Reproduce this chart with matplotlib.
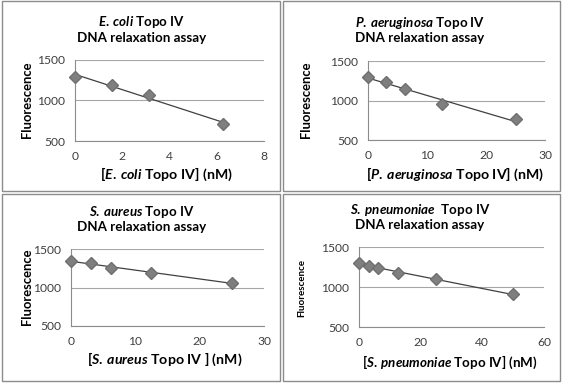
import numpy as np
import matplotlib
matplotlib.use("Agg")
import matplotlib.pyplot as plt
from matplotlib.patches import Rectangle

plt.rcParams['font.family'] = ['Lato', 'DejaVu Sans']
plt.rcParams['mathtext.fontset'] = 'custom'
plt.rcParams['mathtext.rm'] = 'Lato:bold'
plt.rcParams['mathtext.it'] = 'Lato:bold:italic'
plt.rcParams['mathtext.bf'] = 'Lato:bold'

# ---- data ----
ecoli_x = [0, 1.5625, 3.125, 6.25]
ecoli_y = [1296, 1188, 1062, 712]

paer_x = [0, 3.125, 6.25, 12.5, 25]
paer_y = [1303, 1228, 1147, 950, 761]

saur_x = [0, 3.125, 6.25, 12.5, 25]
saur_y = [1345, 1319, 1250, 1190, 1060]

spn_x = [0, 3.125, 6.25, 12.5, 25, 50]
spn_y = [1302, 1258, 1238, 1178, 1097, 908]

titles = [r"$\mathit{E.\:coli}$ Topo IV", r"$\mathit{P.\:aeruginosa}$ Topo IV",
          r"$\mathit{S.\:aureus}$ Topo IV", r"$\mathit{S.\:pneumoniae}$  Topo IV"]
subtitle = "DNA relaxation assay"
xlabels = [r"$\mathit{[E.\:coli}$ Topo IV] (nM)", r"$\mathit{[P.\:aeruginosa}$ Topo IV] (nM)",
           r"$\mathit{[S.\:aureus}$ Topo IV ] (nM)", r"[$\mathit{S.\:pneumoniae}$ Topo IV] (nM)"]
ylabel = "Fluorescence"
xmaxes = [8, 30, 30, 60]
xticks = [[0, 2, 4, 6, 8], [0, 10, 20, 30], [0, 10, 20, 30], [0, 20, 40, 60]]
yticks = [500, 1000, 1500]

W, H = 562, 383
fig = plt.figure(figsize=(W / 100, H / 100), dpi=100)

def fx(px):
    return px / W

def fy(py):
    return 1 - py / H

# panel borders (x0, y0, x1, y1) in pixels
panels = [(2, 1, 280, 191), (283, 1, 560, 191), (2, 194, 280, 381), (283, 194, 560, 381)]
for (x0, y0, x1, y1) in panels:
    fig.add_artist(Rectangle((fx(x0), fy(y1)), fx(x1 - x0), (y1 - y0) / H,
                             transform=fig.transFigure, fill=False,
                             edgecolor='#8c8c8c', lw=1.0))

# axes boxes (left, right, top, bottom) in pixels
axboxes = [(75, 264, 60, 141), (368, 545, 61, 140), (71, 264, 249, 326), (359, 544, 247, 327)]
title_pos = [(142, 22, 38), (420, 23, 38), (142, 212, 227), (420, 210, 225)]
xlab_pos = [(166, 174), (455, 174), (165, 359), (450, 362)]
ylab_pos = [(27, 100), (306, 100), (27, 287), (302, 288)]
ylab_size = [9.4, 9.4, 9.4, 7.0]
xlab_size = [10.2, 10.2, 10.2, 9.6]

data = [(ecoli_x, ecoli_y), (paer_x, paer_y), (saur_x, saur_y), (spn_x, spn_y)]

for i, (x, y) in enumerate(data):
    l, r, t, b = axboxes[i]
    ax = fig.add_axes([fx(l), fy(b), (r - l) / W, (b - t) / H])
    ax.set_xlim(0, xmaxes[i])
    ax.set_ylim(500, 1500)
    ax.set_xticks(xticks[i])
    ax.set_yticks(yticks)
    ax.yaxis.grid(True, color='#a6a6a6', lw=0.8)
    ax.set_axisbelow(True)
    for s in ['top', 'right']:
        ax.spines[s].set_visible(False)
    for s in ['left', 'bottom']:
        ax.spines[s].set_color('#8c8c8c')
        ax.spines[s].set_linewidth(0.8)
    ax.tick_params(length=0, labelsize=8.7, labelcolor='#404040', pad=7)
    xa = np.array(x, dtype=float)
    ya = np.array(y, dtype=float)
    k, c = np.polyfit(xa, ya, 1)
    xx = np.array([xa.min(), xa.max()])
    ax.plot(xx, k * xx + c, color='#404040', lw=0.9, zorder=2)
    ax.plot(xa, ya, linestyle='none', marker='D', markersize=6.5,
            color='#7f7f7f', markeredgecolor='#6f6f6f', zorder=3, clip_on=False)

    tx, ty1, ty2 = title_pos[i]
    fig.text(fx(tx), fy(ty1), titles[i], ha='center', va='center',
             fontsize=9.6, fontweight='bold', color='black')
    fig.text(fx(tx), fy(ty2), subtitle, ha='center', va='center',
             fontsize=9.6, fontweight='bold', color='black')
    lx, ly = xlab_pos[i]
    fig.text(fx(lx), fy(ly), xlabels[i], ha='center', va='center',
             fontsize=xlab_size[i], fontweight='bold', color='black')
    yx, yy = ylab_pos[i]
    fig.text(fx(yx), fy(yy), ylabel, ha='center', va='center', rotation=90,
             fontsize=ylab_size[i], fontweight='bold', color='black')

fig.savefig('out.png', dpi=100, facecolor='white')
